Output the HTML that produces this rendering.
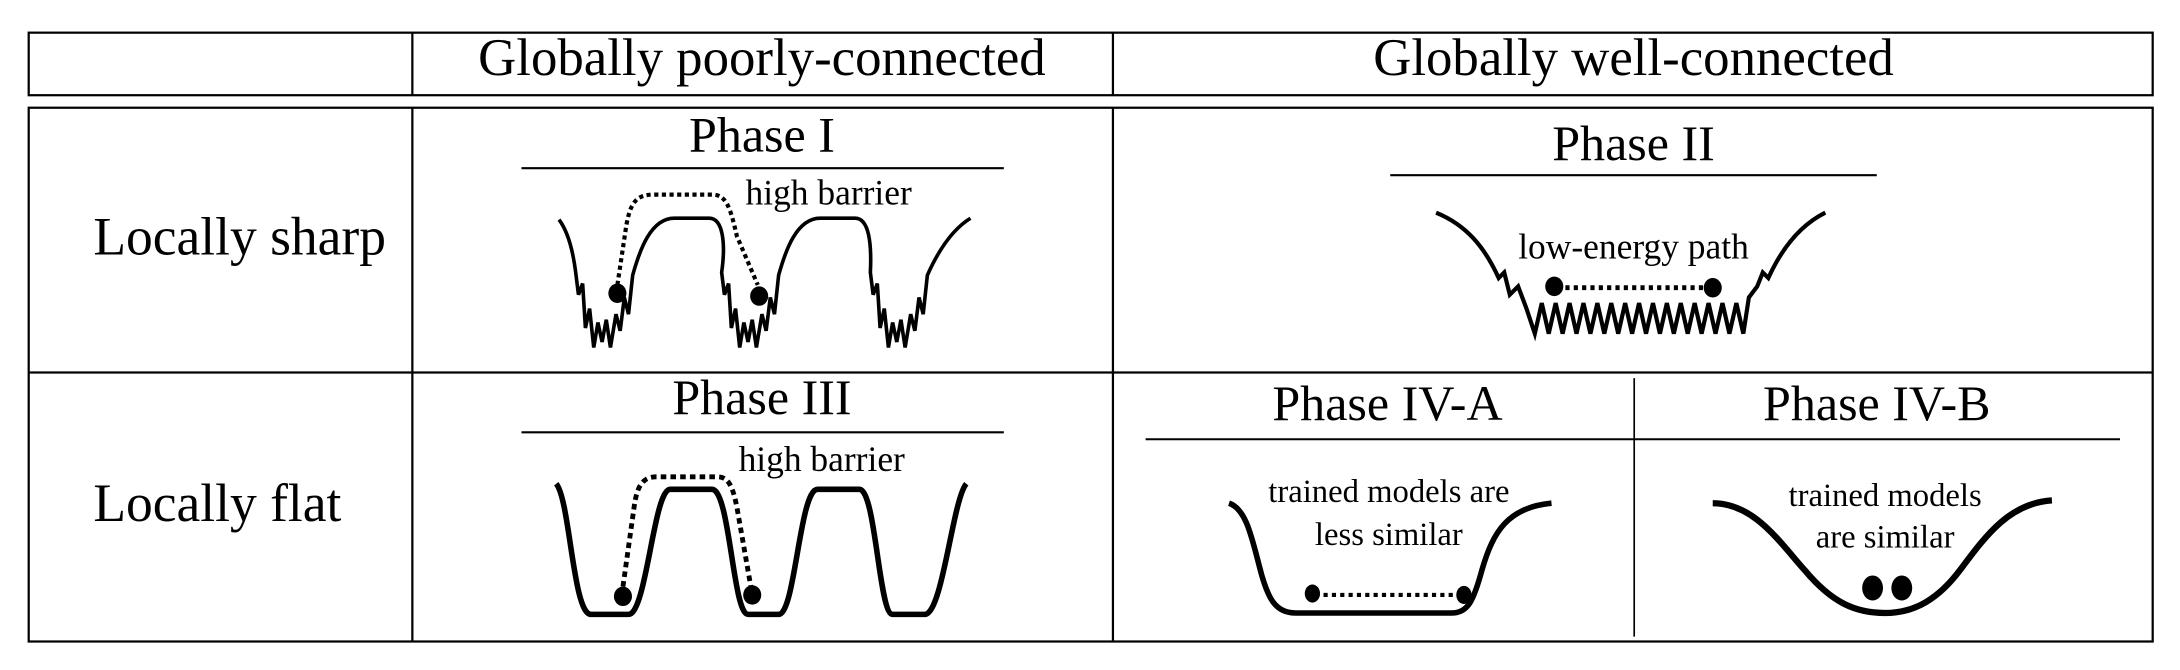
<!DOCTYPE html>
<html><head><meta charset="utf-8"><style>
html,body{margin:0;padding:0;background:#fff;}
svg{display:block;}
text{font-family:"Liberation Serif",serif;fill:#000;}
</style></head><body>
<svg id="fig" width="2180" height="670" viewBox="0 0 1568 482">
<g fill="none" stroke="#000" stroke-width="1.6">
<rect x="20.5" y="23.5" width="1528" height="45"/>
<line x1="296.5" y1="23" x2="296.5" y2="68"/>
<line x1="800.5" y1="23" x2="800.5" y2="68"/>
<rect x="20.5" y="77.5" width="1528" height="384"/>
<line x1="20" y1="268" x2="1548" y2="268"/>
<line x1="296.5" y1="77" x2="296.5" y2="461"/>
<line x1="800.5" y1="77" x2="800.5" y2="461"/>
<line x1="1175.5" y1="272" x2="1175.5" y2="458" stroke-width="1.2"/>
<line x1="375" y1="121" x2="722" y2="121" stroke-width="1.5"/>
<line x1="1000" y1="126" x2="1350" y2="126" stroke-width="1.5"/>
<line x1="375" y1="311" x2="722" y2="311" stroke-width="1.5"/>
<line x1="824" y1="316" x2="1525" y2="316" stroke-width="1.5"/>
</g>
<g font-size="38" text-anchor="middle">
<text x="548" y="54">Globally poorly-connected</text>
<text x="1175" y="54">Globally well-connected</text>
<text x="548" y="109" font-size="36">Phase I</text>
<text x="1175" y="115" font-size="36">Phase II</text>
<text x="548" y="298" font-size="36">Phase III</text>
<text x="998" y="302" font-size="36">Phase IV-A</text>
<text x="1350" y="302" font-size="36">Phase IV-B</text>
</g>
<g font-size="38.5">
<text x="67" y="183">Locally sharp</text>
<text x="67" y="375">Locally flat</text>
</g>
<g font-size="25.5" text-anchor="middle">
<text x="596" y="147">high barrier</text>
<text x="1175" y="186">low-energy path</text>
<text x="591" y="339">high barrier</text>
<text x="999" y="361" font-size="23.5">trained models are</text>
<text x="999" y="392" font-size="23.5">less similar</text>
<text x="1356" y="364" font-size="23.5">trained models</text>
<text x="1356" y="394" font-size="23.5">are similar</text>
</g>
<g fill="none" stroke="#000" stroke-linejoin="miter">
<path id="p1" stroke-width="2.6"/>
<path stroke-width="3" stroke-dasharray="3,2.5" d="M444,205 L450,165 C453,145 458,140 470,140 L512,140 C522,140 525,148 530,170 L545,205"/>
<path id="p2" stroke-width="3"/>
<line x1="1126" y1="207" x2="1225" y2="207" stroke-width="3.5" stroke-dasharray="3,3"/>
<path stroke-width="4" d="M400,348 C410,360 412,442 425,442 L452,442 C465,442 470,352 482,352 L512,352 C525,352 527,442 538,442 L560,442 C572,442 575,352 588,352 L618,352 C630,352 632,442 642,442 L665,442 C678,442 685,360 695,348"/>
<path stroke-width="3.5" stroke-dasharray="4,3" d="M448,422 L456,365 C458,350 462,343 472,343 L516,343 C524,343 527,350 530,365 L540,422"/>
<path stroke-width="4" d="M884,362 C896,366 900,385 906,408 C912,432 918,441 932,441 L1044,441 C1056,441 1060,432 1066,410 C1074,382 1085,365 1116,362"/>
<line x1="952" y1="428" x2="1046" y2="428" stroke-width="3" stroke-dasharray="3,3"/>
<path stroke-width="4.5" d="M1232,362 C1262,362 1280,390 1298,410 C1318,434 1335,441 1356,441 C1378,441 1395,430 1410,410 C1428,386 1445,362 1476,360"/>
</g>
<g fill="#000">
<ellipse cx="444" cy="211" rx="6.5" ry="7"/>
<ellipse cx="546" cy="213" rx="6.5" ry="7"/>
<ellipse cx="1118" cy="206" rx="6.5" ry="7"/>
<ellipse cx="1232" cy="207" rx="6.5" ry="7"/>
<ellipse cx="448" cy="429" rx="6.5" ry="7"/>
<ellipse cx="541" cy="428" rx="6.5" ry="7"/>
<ellipse cx="944" cy="427" rx="5.5" ry="6.5"/>
<ellipse cx="1053" cy="428" rx="5.5" ry="6.5"/>
<ellipse cx="1347" cy="423" rx="7.5" ry="9"/>
<ellipse cx="1368" cy="423" rx="7.5" ry="9"/>
</g>
</svg>
<script>
// jagged valley offsets relative to valley center
const jag=[[-26,196],[-24,212],[-21,204],[-19,236],[-16,222],[-13,250],[-10,232],[-7,246],[-4,230],[-1,250],[3,226],[6,238],[9,214],[12,226],[15,198]];
function valley(cx){return jag.map(p=>(cx+p[0])+','+p[1]).join(' L');}
const centers=[440,545,652];
let d='M402,158 C408,166 412,180 414,196 L'+valley(centers[0]);
d+=' C460,180 468,157 485,157 L510,157 C520,157 522,175 519,196 L'+valley(centers[1]);
d+=' C565,180 573,157 590,157 L615,157 C625,157 627,175 626,196 L'+valley(centers[2]);
d+=' C675,180 685,165 698,157';
document.getElementById('p1').setAttribute('d',d);
let d2='M1033,153 C1055,162 1068,178 1078,200 L1082,196 L1086,212 L1092,206 L1098,222';
for(let x=1104;x<=1244;x+=10){d2+=' L'+x+',240 L'+(x+5)+',218';}
d2+=' L1254,240 L1258,214 L1264,206 L1268,196 L1272,200 C1282,178 1295,162 1313,153';
document.getElementById('p2').setAttribute('d',d2);
</script>
</body></html>
